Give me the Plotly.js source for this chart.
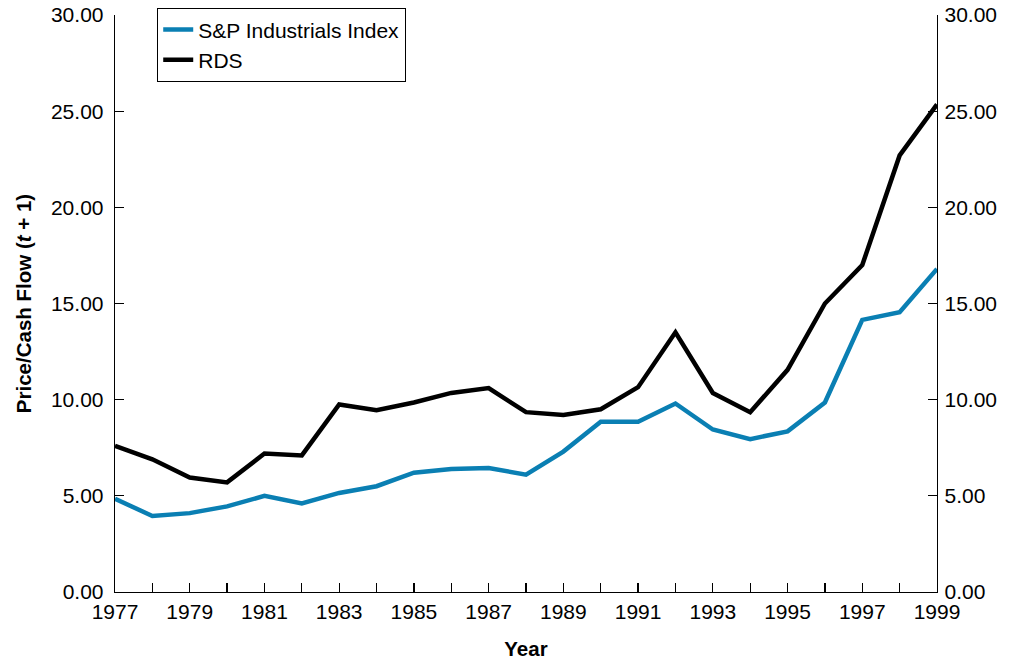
<!DOCTYPE html>
<html>
<head>
<meta charset="utf-8">
<script src="https://cdn.plot.ly/plotly-3.0.1.min.js"></script>
<style>html,body{margin:0;padding:0;background:#fff;}#chart{width:1013px;height:663px;}</style>
</head>
<body>
<div id="chart"></div>
<script>
const years = [1977,1978,1979,1980,1981,1982,1983,1984,1985,1986,1987,1988,1989,1990,1991,1992,1993,1994,1995,1996,1997,1998,1999];
const spIndustrials = [4.85,3.95,4.1,4.45,5.0,4.6,5.15,5.5,6.2,6.4,6.45,6.1,7.3,8.85,8.85,9.8,8.45,7.95,8.35,9.85,14.15,14.55,16.8];
const rds = [7.6,6.9,5.95,5.7,7.2,7.1,9.75,9.45,9.85,10.35,10.6,9.35,9.2,9.5,10.65,13.5,10.35,9.35,11.55,15.0,17.0,22.7,25.35];
const seriesNames = ['S&P Industrials Index','RDS'];
const yTickVals = [0,5,10,15,20,25,30];
const yTickText = ['0.00','5.00','10.00','15.00','20.00','25.00','30.00'];

const font = 'Liberation Sans, Arial, Helvetica, sans-serif';
const traces = [
  {x: years, y: spIndustrials, name: seriesNames[0], type: 'scatter', mode: 'lines',
   line: {color: '#0a7fb3', width: 4.5}, yaxis: 'y'},
  {x: years, y: rds, name: seriesNames[1], type: 'scatter', mode: 'lines',
   line: {color: '#000000', width: 4.5}, yaxis: 'y2'}
];
const yCommon = {
  range: [0,30], tickvals: yTickVals, ticktext: yTickText, showgrid: false, zeroline: false,
  showline: true, linecolor: '#000', linewidth: 1.3, ticks: 'inside', ticklen: 9, tickwidth: 1.3, tickcolor: '#000',
  tickfont: {family: font, size: 21, color: '#000'}, fixedrange: true
};
const layout = {
  width: 1013, height: 663,
  margin: {l: 115, r: 76, t: 15, b: 71, autoexpand: false},
  paper_bgcolor: '#fff', plot_bgcolor: '#fff',
  font: {family: font, color: '#000'},
  xaxis: {
    range: [1977,1999], dtick: 2, tick0: 1977, showgrid: false, zeroline: false,
    showline: true, linecolor: '#000', linewidth: 1.3,
    ticks: 'inside', ticklen: 9, tickwidth: 1.3, tickcolor: '#000',
    minor: {dtick: 1, tick0: 1977, ticks: 'inside', ticklen: 9, tickwidth: 1.3, tickcolor: '#000', showgrid: false},
    tickfont: {family: font, size: 21, color: '#000'},
    title: {text: '<b>Year</b>', font: {family: font, size: 20.5, color: '#000'}, standoff: 20}
  },
  yaxis: Object.assign({}, yCommon, {
    side: 'left', ticklabelstandoff: 6,
    title: {text: '<b>Price/Cash Flow (<i>t</i> + 1)</b>', font: {family: font, size: 20.5, color: '#000'}, standoff: 13}
  }),
  yaxis2: Object.assign({}, yCommon, {side: 'right', overlaying: 'y', ticklabelstandoff: 2}),
  legend: {
    x: 0.051, y: 1.012, xanchor: 'left', yanchor: 'top',
    bordercolor: '#000', borderwidth: 1.3, bgcolor: '#fff',
    font: {family: font, size: 21, color: '#000'},
    tracegroupgap: 0
  },
  showlegend: true
};
Plotly.newPlot('chart', traces, layout, {displayModeBar: false, staticPlot: true});
</script>
</body>
</html>
